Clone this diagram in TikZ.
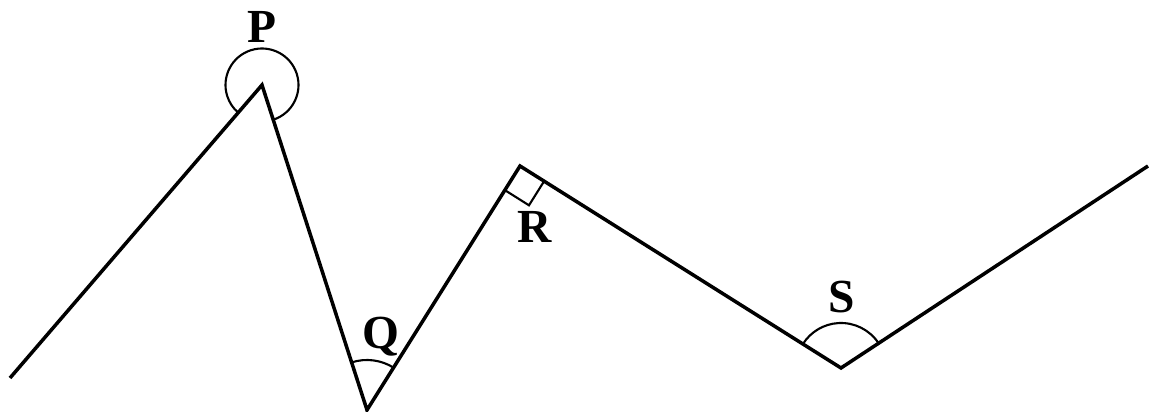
\documentclass[tikz,border=0pt]{standalone}
\usepackage{fontspec}
\setmainfont{Liberation Serif}
\usetikzlibrary{calc}

\begin{document}
\begin{tikzpicture}[
  line join=miter,
  zig/.style={line width=2pt},
  anglemark/.style={line width=1.2pt},
  lbl/.style={anchor=base, inner sep=0pt, font=\fontsize{27}{30}\selectfont\bfseries}
]
\useasboundingbox (0,0) rectangle (23,8.24);
% ----- vertices -----
\coordinate (a) at (0.20,0.68);
\coordinate (P) at (5.24,6.54);
\coordinate (Q) at (7.34,0.04);
\coordinate (R) at (10.40,4.92);
\coordinate (S) at (16.82,0.88);
\coordinate (b) at (22.96,4.92);
% ----- zigzag -----
\draw[zig] (a) -- (P) -- (Q) -- (R) -- (S) -- (b);
% ----- angle marks -----
\draw[anglemark] ($(P)+(-72.1:0.73)$) arc (-72.1:229.3:0.73);
\draw[anglemark] ($(Q)+(57.9:1.0)$) arc (57.9:107.9:1.0);
\draw[anglemark] ($(S)+(33.3:0.9)$) arc (33.3:147.8:0.9);
\draw[anglemark] ($(R)!0.57cm!(Q)$) -- ($(R)!0.57cm!(Q)+(R)!0.57cm!(S)-(R)$) -- ($(R)!0.57cm!(S)$);
% ----- labels -----
\node[lbl] (lP) at (5.24,7.38) {P};
\node[lbl] (lQ) at (7.62,1.26) {Q};
\node[lbl] (lR) at (10.70,3.38) {R};
\node[lbl] (lS) at (16.84,1.98) {S};
\end{tikzpicture}
\end{document}
